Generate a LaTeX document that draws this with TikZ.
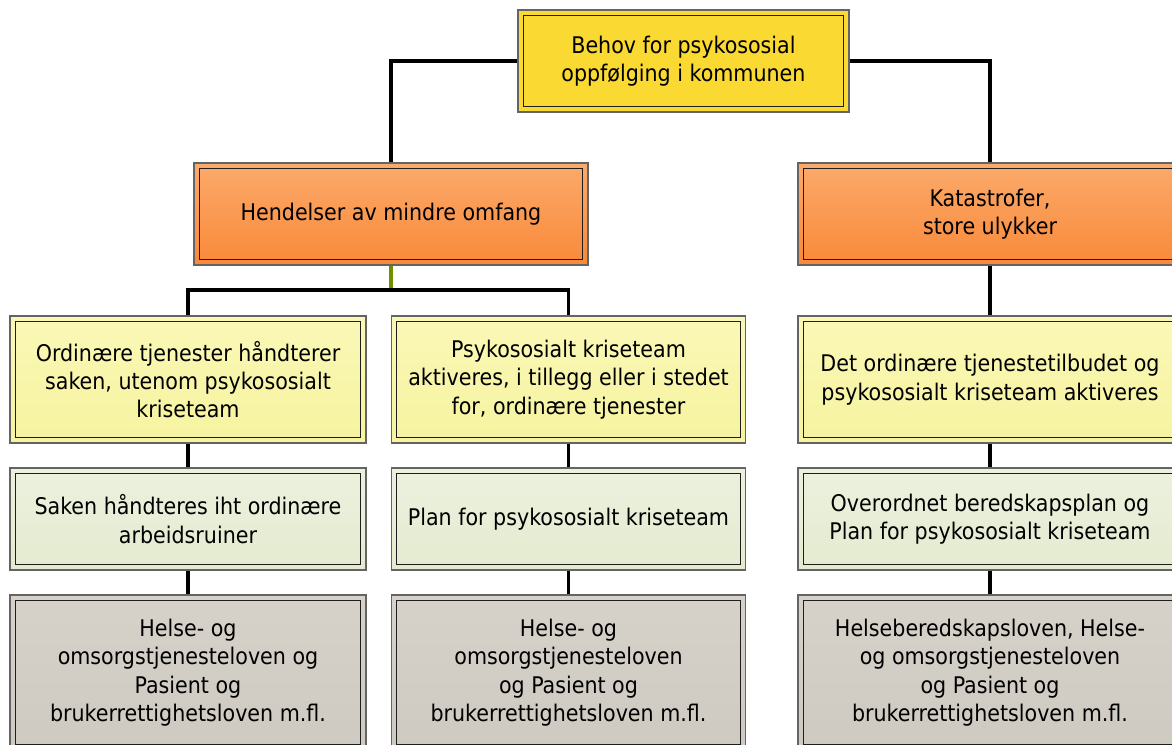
\documentclass[tikz,border=0pt]{standalone}
\usepackage{fontspec}
\setmainfont{DejaVu Sans Condensed}
\usetikzlibrary{calc}
\definecolor{topfill}{RGB}{250,217,50}
\definecolor{orangetop}{RGB}{251,170,108}
\definecolor{orangebot}{RGB}{249,137,56}
\definecolor{paleyellow}{RGB}{250,248,182}
\definecolor{paleyellowb}{RGB}{246,243,160}
\definecolor{palegreen}{RGB}{236,241,222}
\definecolor{palegreenb}{RGB}{228,235,208}
\definecolor{lawgray}{RGB}{214,210,202}
\definecolor{lawgrayb}{RGB}{206,202,193}
\definecolor{outerline}{RGB}{100,100,100}
\definecolor{innerline}{RGB}{30,30,30}
\definecolor{olivegreen}{RGB}{112,142,0}
\tikzset{
  boxbase/.style={draw=outerline, line width=1.1pt, inner sep=0pt, align=center,
    font=\fontsize{17.2}{21.3}\selectfont, text=black,
    path picture={\draw[innerline, line width=0.8pt]
      ([shift={(3.9pt,3.9pt)}]path picture bounding box.south west) rectangle
      ([shift={(-3.9pt,-3.9pt)}]path picture bounding box.north east);}},
  bw/.style={minimum width=#1*0.75pt},
  bh/.style={minimum height=#1*0.75pt},
  topbox/.style={boxbase, fill=topfill},
  orangebox/.style={boxbase, top color=orangetop, bottom color=orangebot},
  yellowbox/.style={boxbase, top color=paleyellow, bottom color=paleyellowb},
  greenbox/.style={boxbase, top color=palegreen, bottom color=palegreenb},
  graybox/.style={boxbase, top color=lawgray, bottom color=lawgrayb},
  conn/.style={draw=black, line width=2.6pt},
  connolive/.style={draw=olivegreen, line width=2.6pt},
}
\begin{document}
\begin{tikzpicture}[x=0.75pt, y=-0.75pt]
\useasboundingbox (0,0) rectangle (1172,744);
\clip (0,0) rectangle (1172,744);
\fill[white] (0,0) rectangle (1172,744);

\node[topbox, bw=331, bh=102] (top) at (683.5,61) {Behov for psykososial\\oppfølging i kommunen};
\node[orangebox, bw=394, bh=102] (hend) at (391,214) {Hendelser av mindre omfang};
\node[orangebox, bw=384, bh=102] (kat) at (990,214) {Katastrofer,\\store ulykker};

\node[yellowbox, bw=356, bh=127] (l3) at (188,379.5) {Ordinære tjenester håndterer\\saken, utenom psykososialt\\kriseteam};
\node[yellowbox, bw=354, bh=127] (m3) at (568.5,379.5) {Psykososialt kriseteam\\aktiveres, i tillegg eller i stedet\\for, ordinære tjenester};
\node[yellowbox, bw=384, bh=127] (r3) at (990,379.5) {Det ordinære tjenestetilbudet og\\psykososialt kriseteam aktiveres};

\node[greenbox, bw=356, bh=102] (l4) at (188,519) {Saken håndteres iht ordinære\\arbeidsruiner};
\node[greenbox, bw=354, bh=102] (m4) at (568.5,519) {Plan for psykososialt kriseteam};
\node[greenbox, bw=384, bh=102] (r4) at (990,519) {Overordnet beredskapsplan og\\Plan for psykososialt kriseteam};

\node[graybox, bw=356, bh=155] (l5) at (188,672.5) {Helse- og\\omsorgstjenesteloven og\\Pasient og\\brukerrettighetsloven m.fl.};
\node[graybox, bw=354, bh=155] (m5) at (568.5,672.5) {Helse- og\\omsorgstjenesteloven\\og Pasient og\\brukerrettighetsloven m.fl.};
\node[graybox, bw=384, bh=155] (r5) at (990,672.5) {Helseberedskapsloven, Helse-\\og omsorgstjenesteloven\\og Pasient og\\brukerrettighetsloven m.fl.};

\coordinate (j) at (391,290);
\draw[conn] (top.west) -| (hend.north);
\draw[conn] (top.east) -| (kat.north);
\draw[connolive] (hend.south) -- (j);
\draw[conn] (l3.north) |- (j) -| (m3.north);
\draw[conn] (kat.south) -- (r3.north);
\draw[conn] (l3.south) -- (l4.north);
\draw[conn] (m3.south) -- (m4.north);
\draw[conn] (r3.south) -- (r4.north);
\draw[conn] (l4.south) -- (l5.north);
\draw[conn] (m4.south) -- (m5.north);
\draw[conn] (r4.south) -- (r5.north);
\end{tikzpicture}
\end{document}
